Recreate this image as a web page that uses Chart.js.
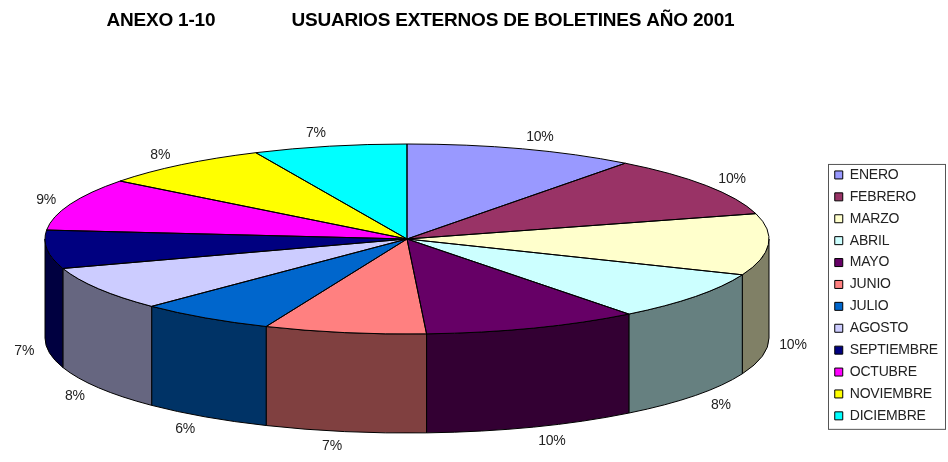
<!DOCTYPE html>
<html>
<head>
<meta charset="utf-8">
<title>Usuarios externos de boletines</title>
<script src="https://cdn.jsdelivr.net/npm/chart.js@4"></script>
<style>
  html, body { margin: 0; padding: 0; background: #fff; }
  #wrap { width: 948px; height: 462px; }
</style>
</head>
<body>
<div id="wrap"><canvas id="chart"></canvas></div>
<script>
const TITLE = 'ANEXO 1-10               USUARIOS EXTERNOS DE BOLETINES AÑO 2001';
const MONTHS = ['ENERO', 'FEBRERO', 'MARZO', 'ABRIL', 'MAYO', 'JUNIO', 'JULIO',
  'AGOSTO', 'SEPTIEMBRE', 'OCTUBRE', 'NOVIEMBRE', 'DICIEMBRE'];
// share of the year, in percent
const SHARES = [10.3, 10.4, 10.45, 8.35, 9.64, 7.22, 6.1, 7.52, 6.52, 8.94, 7.7, 6.86];
const SLICE_COLORS = ['#9999ff', '#993366', '#ffffcc', '#ccffff', '#660066', '#ff8080',
  '#0066cc', '#ccccff', '#000080', '#ff00ff', '#ffff00', '#00ffff'];

// Projection of the flat pie onto the tilted disc
const DISC = { x: 407, y: 239, rx: 362, ry: 95, depth: 99, labelRx: 385, labelRy: 109 };

function darken(hex) {
  const n = parseInt(hex.slice(1), 16);
  const half = v => Math.round(v / 2);
  return `rgb(${half(n >> 16)}, ${half((n >> 8) & 255)}, ${half(n & 255)})`;
}

const tiltedPie = {
  id: 'tiltedPie',
  // a canvas resize wipes the context state, so set this before each measure and draw
  beforeLayout(chart) {
    chart.ctx.letterSpacing = '-0.2px';
  },
  beforeDraw(chart) {
    chart.ctx.letterSpacing = '-0.2px';
  },
  beforeDatasetsDraw(chart) {
    const ctx = chart.ctx;
    const arcs = chart.getDatasetMeta(0).data;

    // outer wall, only the front half of the disc shows
    ctx.save();
    ctx.strokeStyle = '#000';
    ctx.lineWidth = 1;
    arcs.forEach((arc, i) => {
      const from = Math.max(arc.startAngle, 0);
      const to = Math.min(arc.endAngle, Math.PI);
      if (to <= from) return;
      ctx.beginPath();
      ctx.ellipse(DISC.x, DISC.y, DISC.rx, DISC.ry, 0, from, to);
      ctx.ellipse(DISC.x, DISC.y + DISC.depth, DISC.rx, DISC.ry, 0, to, from, true);
      ctx.closePath();
      ctx.fillStyle = darken(SLICE_COLORS[i]);
      ctx.fill();
      ctx.stroke();
    });
    ctx.restore();

    // squash the library's own arcs into the disc
    const first = arcs[0];
    ctx.save();
    ctx.translate(DISC.x, DISC.y);
    ctx.scale(DISC.rx / first.outerRadius, DISC.ry / first.outerRadius);
    ctx.translate(-first.x, -first.y);
  },
  afterDatasetsDraw(chart) {
    const ctx = chart.ctx;
    ctx.restore();

    const arcs = chart.getDatasetMeta(0).data;
    const total = SHARES.reduce((a, b) => a + b, 0);

    ctx.save();
    ctx.strokeStyle = '#000';
    ctx.lineWidth = 1;
    arcs.forEach(arc => {
      ctx.beginPath();
      ctx.moveTo(DISC.x, DISC.y);
      ctx.ellipse(DISC.x, DISC.y, DISC.rx, DISC.ry, 0, arc.startAngle, arc.endAngle);
      ctx.closePath();
      ctx.stroke();
    });

    // percent labels
    ctx.fillStyle = '#222';
    ctx.font = '14px "Liberation Sans", Arial, sans-serif';
    ctx.textAlign = 'center';
    ctx.textBaseline = 'middle';
    arcs.forEach((arc, i) => {
      const mid = (arc.startAngle + arc.endAngle) / 2;
      const c = Math.cos(mid);
      const s = Math.sin(mid);
      const x = DISC.x + 1 + c * DISC.labelRx + Math.sign(c) * 10 * Math.abs(s);
      const y = DISC.y + 1 + s * DISC.labelRy + (s > 0 ? DISC.depth : 0);
      ctx.fillText(Math.round(SHARES[i] / total * 100) + '%', x, y);
    });
    ctx.restore();
  },
  afterDraw(chart) {
    // frame around the legend
    const ctx = chart.ctx;
    const boxes = chart.legend.legendHitBoxes;
    const top = boxes[0].top - 4;
    const last = boxes[boxes.length - 1];
    ctx.save();
    ctx.strokeStyle = '#555';
    ctx.lineWidth = 1;
    ctx.strokeRect(828.5, top + 0.5, 117, last.top + last.height + 6 - top);
    ctx.restore();
  },
};

new Chart(document.getElementById('chart'), {
  type: 'pie',
  data: {
    labels: MONTHS,
    datasets: [{
      data: SHARES,
      backgroundColor: SLICE_COLORS,
      borderColor: '#000',
      borderWidth: 0,
      clip: false,
    }],
  },
  options: {
    responsive: true,
    maintainAspectRatio: false,
    animation: false,
    layout: { padding: { left: 14, right: 0 } },
    plugins: {
      tooltip: { enabled: false },
      title: {
        display: true,
        text: TITLE,
        fullSize: false,
        color: '#000',
        font: { family: '"Liberation Sans", Arial, sans-serif', size: 19, weight: 'bold' },
        padding: { top: 9, bottom: 97 },
      },
      legend: {
        position: 'right',
        fullSize: false,
        labels: {
          boxWidth: 8,
          boxHeight: 8,
          color: '#222',
          padding: 7.9,
          font: { family: '"Liberation Sans", Arial, sans-serif', size: 14 },
          generateLabels(chart) {
            return Chart.overrides.pie.plugins.legend.labels.generateLabels(chart)
              .map(item => ({ ...item, strokeStyle: '#000', lineWidth: 1 }));
          },
        },
      },
    },
  },
  plugins: [tiltedPie],
});
</script>
</body>
</html>
